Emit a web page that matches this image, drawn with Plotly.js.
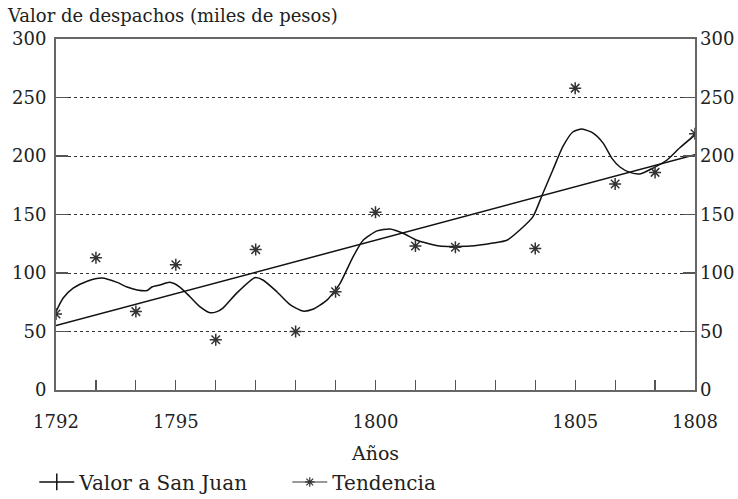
<!DOCTYPE html>
<html>
<head>
<meta charset="utf-8">
<script src="https://cdn.plot.ly/plotly-3.0.1.min.js"></script>
<style>html,body{margin:0;padding:0;background:#fff;}#chart{width:738px;height:499px;}</style>
</head>
<body>
<div id="chart"></div>
<script>
// Years and yearly values (asterisks); 1803 has no visible mark
const years = [1792,1793,1794,1795,1796,1797,1798,1799,1800,1801,1802,1803,1804,1805,1806,1807,1808];
const valores = [65,113,67,107,43,120,50,84,152,123,122,null,121,258,176,186,219];

// Linear trend line end points
const trendYears = [1792, 1808];
const trendValues = [55, 201];

// Smoothed curve
const curveYears = [1792.00,1792.18,1792.43,1792.78,1793.15,1793.53,1793.78,1794.03,1794.28,1794.40,1794.60,1794.85,1795.10,1795.36,1795.61,1795.86,1796.03,1796.18,1796.53,1796.98,1797.18,1797.53,1797.86,1798.18,1798.43,1798.79,1799.11,1799.44,1799.69,1800.04,1800.36,1800.69,1801.04,1801.61,1802.37,1802.94,1803.29,1803.62,1803.94,1804.19,1804.44,1804.69,1804.94,1805.17,1805.45,1805.70,1805.92,1806.12,1806.37,1806.62,1806.95,1807.30,1807.62,1808.00];
const curveValues = [67,78.6,87,93,95.7,92,88,85.5,85,88,89.7,92,88,79.5,71,66,67,70,83,96,94,84,73,67.5,69,77,91,114,128,136,137.6,134,128,123,123,125.6,128,137,148,168,188,208,220.5,223,219.6,211,198,190.6,186,184.6,189.7,196.6,207,218];

const tickYears = years;
const tickLabels = years.map(y => [1792,1795,1800,1805,1808].includes(y) ? String(y) : '');
const yTicks = [0,50,100,150,200,250,300];

const FONT = 'DejaVu Serif';

const traces = [
  {x: curveYears, y: curveValues, mode: 'lines', line: {color: '#111', width: 1.5, shape: 'spline', smoothing: 0.6}, showlegend: false, hoverinfo: 'skip'},
  {x: trendYears, y: trendValues, mode: 'lines', line: {color: '#111', width: 1.5}, showlegend: false, hoverinfo: 'skip'},
  {x: years, y: valores, mode: 'markers', marker: {symbol: 'asterisk-open', size: 10, color: '#333', line: {color: '#333', width: 1.5}}, showlegend: false},
  {x: [null], y: [null], name: 'Valor a San Juan', mode: 'lines+markers', line: {color: '#111', width: 1.5}, marker: {symbol: 'line-ns-open', size: 12, color: '#111', line: {color: '#111', width: 1.5}}},
  {x: [null], y: [null], name: 'Tendencia', mode: 'lines+markers', line: {color: '#777', width: 1.5}, marker: {symbol: 'asterisk-open', size: 8, color: '#333', line: {color: '#333', width: 1.2}}},
  {x: trendYears, y: trendValues, yaxis: 'y2', mode: 'lines', line: {width: 0}, opacity: 0, showlegend: false, hoverinfo: 'skip'}
];

const layout = {
  width: 738, height: 499,
  margin: {l: 56, r: 43, t: 39, b: 109, autoexpand: false},
  paper_bgcolor: '#fff', plot_bgcolor: '#fff',
  font: {family: FONT, color: '#222', size: 18},
  title: {text: 'Valor de despachos (miles de pesos)', x: 8/738, xanchor: 'left', xref: 'container', y: 1 - 16/499, yref: 'container', yanchor: 'middle', font: {family: FONT, size: 18, color: '#222'}},
  xaxis: {
    range: [1792, 1808], tickmode: 'array', tickvals: tickYears, ticktext: tickLabels,
    ticks: 'inside', ticklen: 10, tickwidth: 1.2, tickcolor: '#555',
    showline: true, linecolor: '#666', linewidth: 2, mirror: true,
    showgrid: false, zeroline: false, ticklabelstandoff: 14,
    tickfont: {family: FONT, size: 18, color: '#222'},
    title: {text: 'Años', standoff: 16, font: {family: FONT, size: 19, color: '#222'}}
  },
  yaxis: {
    range: [0, 300], tickmode: 'array', tickvals: yTicks,
    ticks: 'inside', ticklen: 12, tickwidth: 1.5, tickcolor: '#555',
    showline: true, linecolor: '#666', linewidth: 2, mirror: true,
    showgrid: true, gridcolor: '#333', gridwidth: 1, griddash: 'dot', zeroline: false,
    ticklabelstandoff: 4,
    tickfont: {family: FONT, size: 18, color: '#222'}
  },
  yaxis2: {
    range: [0, 300], tickmode: 'array', tickvals: yTicks, overlaying: 'y', side: 'right',
    ticks: 'inside', ticklen: 12, tickwidth: 1.5, tickcolor: '#555',
    showline: false, showgrid: false, zeroline: false, ticklabelstandoff: 4,
    tickfont: {family: FONT, size: 18, color: '#222'}
  },
  legend: {orientation: 'h', x: -0.034, xanchor: 'left', y: -0.262, yanchor: 'middle', yref: 'paper',
    font: {family: FONT, size: 20, color: '#222'}, itemwidth: 35, entrywidth: 203, entrywidthmode: 'pixels', bgcolor: 'rgba(0,0,0,0)'},
  showlegend: true
};

Plotly.newPlot('chart', traces, layout, {displayModeBar: false, staticPlot: true});
</script>
</body>
</html>
